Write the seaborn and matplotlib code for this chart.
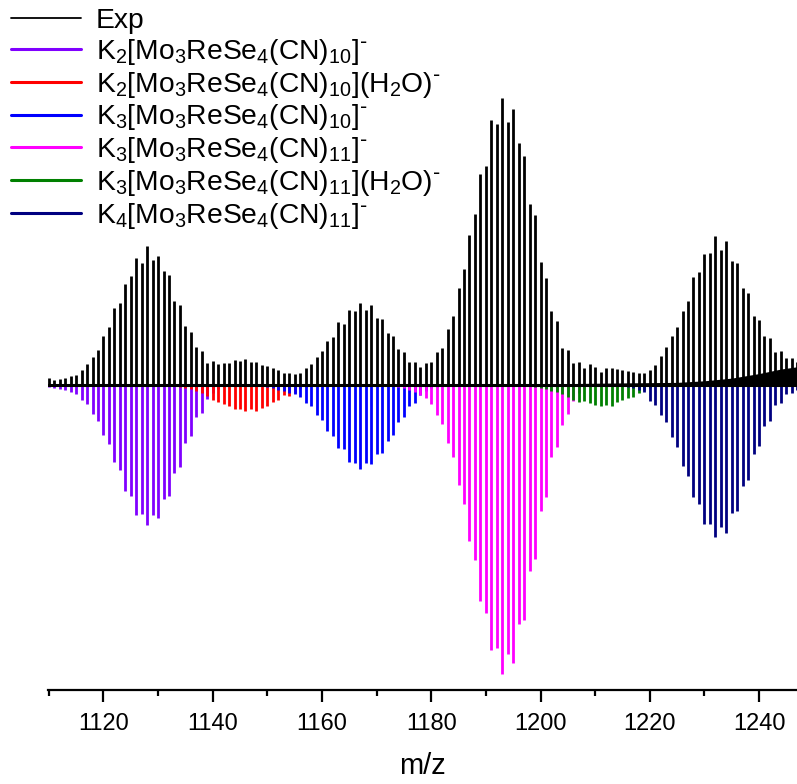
import numpy as np
import matplotlib
matplotlib.use("Agg")
import matplotlib.pyplot as plt
from matplotlib.lines import Line2D
import seaborn as sns

# Experimental isotope pattern, one stick per m/z unit starting at exp_start
exp_start = 1110
exp_int = [
    2.5, 1.9, 2.1, 2.5, 3.4, 3.8, 5.7, 7.8, 10.6, 13.2,
    18.5, 21.9, 28.9, 30.8, 37.7, 40.8, 47.7, 45.8, 52.2, 47.0,
    48.4, 42.6, 41.4, 31.4, 30.1, 22.0, 20.0, 14.1, 12.8, 8.4,
    9.1, 7.8, 8.4, 8.4, 9.3, 9.1, 9.7, 8.7, 8.7, 7.5,
    7.2, 6.2, 5.5, 4.4, 4.6, 4.0, 4.4, 6.2, 7.8, 10.5,
    12.9, 16.5, 18.0, 23.6, 23.0, 28.1, 27.8, 30.9, 28.0, 29.9,
    25.1, 24.9, 19.6, 18.4, 13.4, 12.4, 8.8, 8.6, 6.7, 8.2,
    8.5, 12.3, 14.0, 20.9, 25.9, 36.5, 43.4, 56.3, 64.0, 79.0,
    82.1, 99.4, 97.8, 107.5, 98.4, 103.5, 90.6, 85.9, 67.8, 63.8,
    45.9, 40.0, 27.9, 24.1, 13.8, 13.1, 8.1, 8.8, 6.3, 7.8,
    6.9, 5.0, 6.5, 6.3, 5.9, 5.6, 5.4, 5.0, 4.4, 4.7,
    5.5, 7.6, 11.0, 14.1, 18.5, 21.9, 27.9, 31.5, 40.4, 42.5,
    49.0, 49.4, 56.0, 50.6, 53.8, 46.6, 45.6, 36.5, 34.6, 26.0,
    24.4, 18.4, 17.5, 12.5, 12.9, 10.0, 10.3, 8.8,
]

# unresolved background under the last cluster
floor_mz = [1195, 1215, 1225, 1230, 1235, 1240, 1244, 1247.5]
floor_int = [0.3, 0.8, 1.0, 1.6, 2.6, 4.3, 6.0, 7.0]

# simulated patterns (drawn downwards)
sim_labels = [
    r"K$_2$[Mo$_3$ReSe$_4$(CN)$_{10}$]$^{\text{-}}$",
    r"K$_2$[Mo$_3$ReSe$_4$(CN)$_{10}$](H$_2$O)$^{\text{-}}$",
    r"K$_3$[Mo$_3$ReSe$_4$(CN)$_{10}$]$^{\text{-}}$",
    r"K$_3$[Mo$_3$ReSe$_4$(CN)$_{11}$]$^{\text{-}}$",
    r"K$_3$[Mo$_3$ReSe$_4$(CN)$_{11}$](H$_2$O)$^{\text{-}}$",
    r"K$_4$[Mo$_3$ReSe$_4$(CN)$_{11}$]$^{\text{-}}$",
]
sim_colors = ["#8000FF", "#FF0000", "#0000FF", "#FF00FF", "#008000", "#000080"]
sim_start = [1110, 1133, 1150, 1174, 1198, 1216]

k2_cn10 = [0.6, 1.0, 1.4, 1.75, 2.6, 3.4, 5.6, 7.25, 10.75, 13.5,
           18.75, 22.0, 28.75, 31.9, 39.75, 41.6, 48.5, 48.25, 52.25, 48.5,
           49.75, 42.5, 41.6, 32.9, 30.6, 21.6, 19.1, 12.0, 10.4, 5.4,
           3.0, 1.5, 0.7]
k2_cn10_h2o = [0.5, 0.8, 1.1, 1.4, 2.25, 3.1, 4.1, 5.6, 6.25, 7.25,
               7.9, 8.9, 9.1, 9.9, 9.1, 9.6, 8.5, 7.9, 6.4, 5.5,
               3.9, 4.0, 2.9, 1.5, 0.8]
k3_cn10 = [0.8, 1.2, 1.8, 2.2, 2.8, 3.5, 4.4, 6.6, 7.9, 11.25,
           13.1, 17.25, 19.1, 23.5, 23.9, 28.75, 29.1, 31.4, 29.1, 29.75,
           25.75, 25.4, 21.0, 18.75, 13.9, 12.0, 7.9, 6.9, 3.9, 2.25,
           1.2, 0.6]
k3_cn11 = [0.8, 1.2, 1.8, 2.5, 3.75, 5.0, 7.1, 11.25, 14.4, 21.6,
           26.9, 37.5, 44.6, 58.4, 65.6, 80.9, 85.4, 99.1, 98.5, 108.1,
           100.6, 104.1, 89.6, 88.1, 69.6, 65.0, 47.1, 41.9, 26.9, 23.1,
           15.0, 11.0, 6.0, 3.0, 1.5]
k3_cn11_h2o = [0.5, 0.8, 1.2, 1.6, 2.1, 2.6, 3.2, 4.4, 5.6, 6.25,
               6.0, 6.9, 7.5, 7.9, 7.5, 7.9, 6.25, 5.6, 5.0, 4.4,
               3.1, 1.9, 1.0]
k4_cn11 = [0.8, 1.2, 1.8, 2.5, 5.9, 7.5, 11.25, 14.0, 19.4, 23.1,
           30.4, 34.1, 42.1, 44.6, 52.1, 51.9, 56.9, 53.1, 55.4, 48.1,
           47.25, 37.75, 35.6, 25.9, 22.9, 15.25, 13.4, 7.5, 6.6, 3.4,
           2.9, 2.0]
sim_int = [k2_cn10, k2_cn10_h2o, k3_cn10, k3_cn11, k3_cn11_h2o, k4_cn11]

sns.set_theme(style="ticks")
plt.rcParams['font.family'] = ['Liberation Sans', 'DejaVu Sans']
plt.rcParams['mathtext.default'] = 'regular'
for key in ['text.color', 'axes.labelcolor', 'xtick.color', 'axes.edgecolor']:
    plt.rcParams[key] = 'black'

fig = plt.figure(figsize=(7.97, 7.84), dpi=100)
ax = fig.add_axes([48 / 797, 94 / 784, 749 / 797, 690 / 784])

for start, vals, color in zip(sim_start, sim_int, sim_colors):
    mz = np.arange(start, start + len(vals))
    ax.vlines(mz, 0, -np.asarray(vals), color=color, lw=2.0, zorder=2)

exp_mz = np.arange(exp_start, exp_start + len(exp_int))
ax.vlines(exp_mz, 0, exp_int, color="black", lw=2.0, zorder=3)
ax.fill_between(floor_mz, 0, floor_int, color="black", lw=0, zorder=3)
ax.axhline(0, color="black", lw=2.2, zorder=4)

ax.set_xlim(1109.85, 1246.95)
ax.set_ylim(-114.2, 144.2)

sns.despine(ax=ax, left=True, top=True, right=True)
ax.spines['bottom'].set_linewidth(1.6)
ax.set_yticks([])
ax.set_xticks(np.arange(1120, 1241, 20))
ax.set_xticks(np.arange(1110, 1247, 10), minor=True)
ax.tick_params(axis='x', which='major', direction='out', length=8.5, width=1.6, pad=8,
               labelsize=17)
ax.tick_params(axis='x', which='minor', direction='out', length=4, width=1.6)
ax.set_xlabel("m/z", fontsize=21, labelpad=12)

handles = [Line2D([], [], color="black", lw=1.3)]
handles += [Line2D([], [], color=c, lw=2.2) for c in sim_colors]
labels = ["Exp"] + sim_labels
fig.legend(handles, labels, loc="upper left", bbox_to_anchor=(11 / 797, 1 - 8 / 784),
           frameon=False, fontsize=20.3, handlelength=2.5, handletextpad=0.5,
           labelspacing=0.1, borderpad=0, borderaxespad=0)

fig.savefig("out.png", dpi=100)
